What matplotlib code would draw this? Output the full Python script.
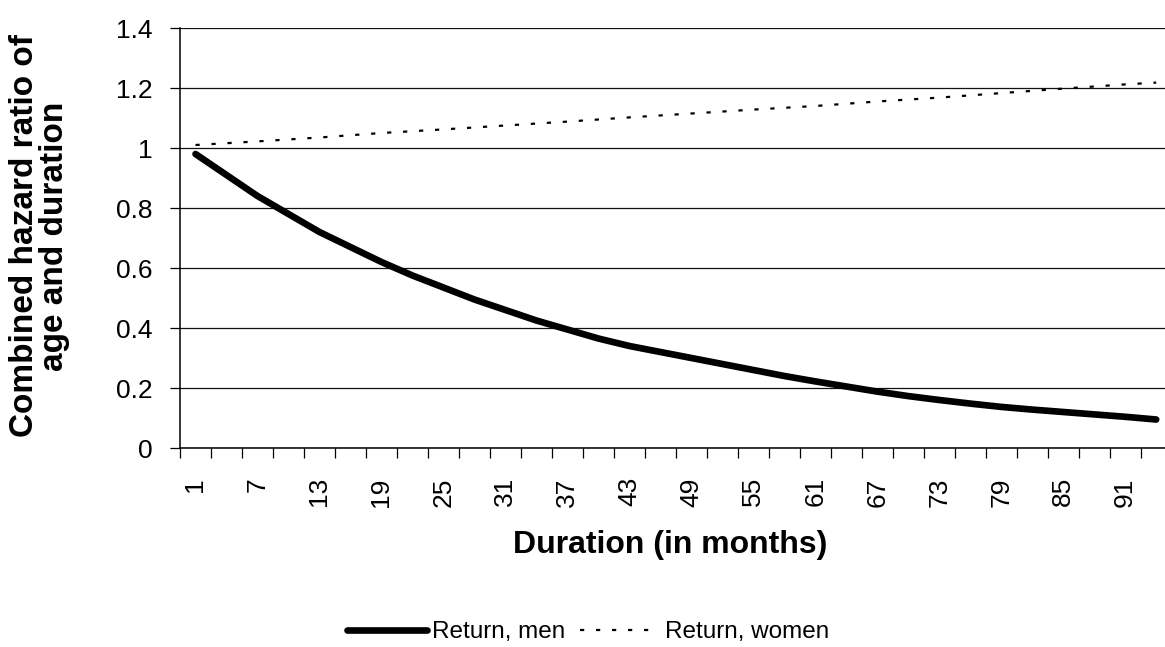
import matplotlib.pyplot as plt
from matplotlib.ticker import FixedLocator, NullFormatter

# 1. Data
meses_homens = [1, 4, 7, 10, 13, 16, 19, 22, 25, 28, 31, 34, 37, 40, 43, 46,
                49, 52, 55, 58, 61, 64, 67, 70, 73, 76, 79, 82, 85, 88, 91, 94]
retorno_homens = [0.98, 0.91, 0.84, 0.78, 0.72, 0.67, 0.62, 0.575, 0.535, 0.495,
                  0.46, 0.425, 0.395, 0.365, 0.34, 0.32, 0.30, 0.28, 0.26, 0.24,
                  0.222, 0.205, 0.188, 0.173, 0.16, 0.148, 0.137, 0.128, 0.12,
                  0.112, 0.104, 0.095]
meses_mulheres = [1, 7, 13, 19, 25, 31, 37, 43, 49, 55, 61, 67, 73, 79, 85, 91, 94]
retorno_mulheres = [1.01, 1.022, 1.035, 1.05, 1.062, 1.075, 1.088, 1.102, 1.115,
                    1.128, 1.14, 1.155, 1.168, 1.183, 1.198, 1.212, 1.218]
rotulos_x = [str(m) for m in range(1, 92, 6)]
valores_y = [0, 0.2, 0.4, 0.6, 0.8, 1.0, 1.2, 1.4]
rotulos_y = ['0', '0.2', '0.4', '0.6', '0.8', '1', '1.2', '1.4']

plt.rcParams['font.family'] = ['Liberation Sans', 'DejaVu Sans']

# 2. Figure
fig = plt.figure(figsize=(11.65, 6.47), dpi=100, facecolor='white')
ax = fig.add_axes([180 / 1165, 1 - 448 / 647, 985 / 1165, 420 / 647])

ax.plot(meses_homens, retorno_homens, color='black', lw=4.8, solid_capstyle='round',
        solid_joinstyle='round', label='Return, men', zorder=3)
ax.plot(meses_mulheres, retorno_mulheres, color='black', lw=1.6,
        linestyle=(0, (1.9, 5.3)), label='Return, women', zorder=3)

# 3. Axes
ax.set_xlim(-0.5, 94.85)
ax.set_ylim(0, 1.4)

ax.set_yticks(valores_y)
ax.set_yticklabels(rotulos_y, fontsize=19)
ax.yaxis.grid(True, color='#111111', lw=0.9)
ax.set_axisbelow(True)

# tick marks every 3 categories, labels every 6
ax.xaxis.set_major_locator(FixedLocator([-0.5 + 3 * j for j in range(32)]))
ax.xaxis.set_major_formatter(NullFormatter())
ax.xaxis.set_minor_locator(FixedLocator(list(range(1, 92, 6))))
ax.set_xticklabels(rotulos_x, minor=True, rotation=90, fontsize=19)
ax.tick_params(axis='x', which='major', direction='out', length=7, width=0.9)
ax.tick_params(axis='x', which='minor', length=0, pad=21)
ax.tick_params(axis='y', direction='out', length=7, width=0.9, pad=13)

for lado in ['top', 'right']:
    ax.spines[lado].set_visible(False)
for lado in ['left', 'bottom']:
    ax.spines[lado].set_linewidth(1.1)
    ax.spines[lado].set_color('black')

ax.set_xlabel('Duration (in months)', fontsize=23, weight='bold')
ax.xaxis.set_label_coords(0.4975, -0.195)
ax.set_ylabel('Combined hazard ratio of\nage and duration', fontsize=24,
              weight='bold', linespacing=0.95)
ax.yaxis.set_label_coords(-0.112, 0.505)

# 4. Legend below the chart
fig.legend(loc='center', bbox_to_anchor=(588 / 1165, 1 - 632 / 647), ncol=2,
           frameon=False, fontsize=17.5, handlelength=3.3, handletextpad=0.2,
           columnspacing=0.6, borderpad=0)

plt.savefig('out.png', dpi=100)
plt.close()
